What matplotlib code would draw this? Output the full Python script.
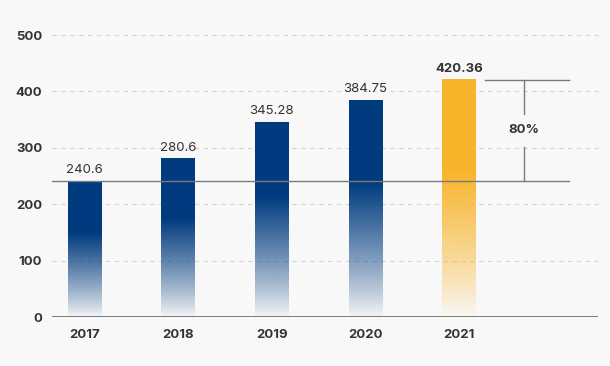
import numpy as np
import matplotlib.pyplot as plt
from matplotlib.colors import to_rgb

plt.rcParams['font.family'] = ['Inter', 'DejaVu Sans']

years = ['2017', '2018', '2019', '2020', '2021']
values = [240.6, 280.6, 345.28, 384.75, 420.36]
labels = ['240.6', '280.6', '345.28', '384.75', '420.36']
colors = ['#003b7f', '#003b7f', '#003b7f', '#003b7f', '#f8b42a']
growth = '80%'

bg = '#f8f8f8'
fig = plt.figure(figsize=(6.1, 3.66), dpi=100, facecolor=bg)
ax = fig.add_axes([52/610, 49/366, 546/610, 282/366], facecolor=bg)

x = np.arange(len(years))
w = 0.355
ax.set_xlim(-0.347, 5.486)
ax.set_ylim(0, 500)

# grid
for g in [100, 200, 300, 400, 500]:
    ax.axhline(g, color='#d4d4d4', lw=0.8, ls=(0, (4, 4)), zorder=0, clip_on=False)
ax.axhline(0, color='#666666', lw=1.2, zorder=3)

# gradient bars
n = 256
t = np.linspace(0, 1, n)[:, None]  # 0 bottom, 1 top
alpha = np.clip(t / 0.62, 0, 1) ** 0.85
alpha = np.clip(alpha, 0.04, 1)
for xi, v, c in zip(x, values, colors):
    rgba = np.zeros((n, 1, 4))
    rgba[..., :3] = to_rgb(c)
    rgba[..., 3] = alpha
    ax.imshow(rgba, extent=[xi - w/2, xi + w/2, 0, v], origin='lower',
              aspect='auto', zorder=2, interpolation='bilinear')

for xi, v, lab in zip(x, values, labels):
    bold = lab == labels[-1]
    ax.text(xi, v + 9, lab, ha='center', va='bottom', fontsize=9.5,
            color='#333333', fontweight='bold' if bold else 'normal')

# reference lines
xr = 5.176
xv = 4.695
ax.plot([-0.347, xr], [values[0], values[0]], color='#7a7a7a', lw=1, zorder=4)
ax.plot([4.279, xr], [values[-1], values[-1]], color='#7a7a7a', lw=1, zorder=4)
ax.plot([xv, xv], [values[-1], 360], color='#7a7a7a', lw=1, zorder=4)
ax.plot([xv, xv], [301, values[0]], color='#7a7a7a', lw=1, zorder=4)
ax.text(xv, 331, growth, ha='center', va='center', fontsize=9.5,
        fontweight='bold', color='#333333')

ax.set_xticks(x)
ax.set_xticklabels(years)
ax.set_yticks([0, 100, 200, 300, 400, 500])
ax.tick_params(length=0, labelsize=9.5, colors='#333333', pad=7)
ax.tick_params(axis='x', pad=9)
for lbl in ax.get_xticklabels() + ax.get_yticklabels():
    lbl.set_fontweight('bold')
for s in ax.spines.values():
    s.set_visible(False)

fig.savefig('out.png', dpi=100, facecolor=bg)
